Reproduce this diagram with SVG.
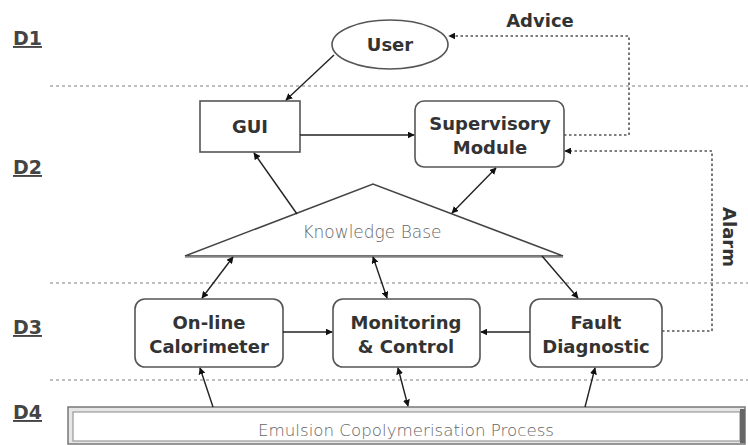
<svg xmlns="http://www.w3.org/2000/svg" width="748" height="445" viewBox="0 0 748 445">
<defs>
<marker id="ah" viewBox="0 0 10 10" refX="9" refY="5" markerWidth="7" markerHeight="7" markerUnits="userSpaceOnUse" orient="auto-start-reverse">
<path d="M0,0 L10,5 L0,10 z" fill="#111"/>
</marker>
<style>
.lbl{font-family:"DejaVu Sans","Liberation Sans",sans-serif;font-weight:bold;font-size:18px;fill:#333;text-anchor:middle}
.dl{font-family:"DejaVu Sans","Liberation Sans",sans-serif;font-weight:bold;font-size:19px;fill:#444;text-decoration:underline}
.thin{font-family:"DejaVu Sans","Liberation Sans",sans-serif;font-weight:200;fill:#666;text-anchor:middle}
.box{fill:#fff;stroke:#555;stroke-width:1.6}
.sep{stroke:#aaa;stroke-width:1.6;stroke-dasharray:3,3;fill:none}
.ln{stroke:#222;stroke-width:1.4;fill:none}
.dot{stroke:#555;stroke-width:1.6;stroke-dasharray:2.5,2.5;fill:none}
</style>
</defs>
<rect width="748" height="445" fill="#fff"/>
<g id="levels">
<text class="dl" x="13" y="45">D1</text>
<text class="dl" x="13" y="174">D2</text>
<text class="dl" x="13" y="334">D3</text>
<text class="dl" x="13" y="419">D4</text>
<line class="sep" x1="50" y1="86" x2="748" y2="86"/>
<line class="sep" x1="50" y1="283" x2="748" y2="283"/>
<line class="sep" x1="50" y1="380" x2="748" y2="380"/>
</g>
<g id="user">
<ellipse class="box" cx="390" cy="44.5" rx="58" ry="24.5"/>
<text class="lbl" x="390" y="51">User</text>
</g>
<g id="gui">
<rect class="box" x="200" y="101" width="100" height="51"/>
<text class="lbl" x="250" y="133">GUI</text>
</g>
<g id="supervisory">
<rect class="box" x="415" y="101" width="149" height="66" rx="9"/>
<text class="lbl" x="490" y="130">Supervisory</text>
<text class="lbl" x="490" y="154">Module</text>
</g>
<g id="knowledge-base">
<polygon points="185,256 373,184 563,256" fill="#fff" stroke="#444" stroke-width="1.5" stroke-linejoin="miter"/>
<line x1="185" y1="257" x2="563" y2="257" stroke="#888" stroke-width="1.5"/>
<text class="thin" x="372" y="238" font-size="17">Knowledge Base</text>
</g>
<g id="calorimeter">
<rect class="box" x="135" y="299" width="148" height="68" rx="10"/>
<text class="lbl" x="209" y="329">On-line</text>
<text class="lbl" x="209" y="353">Calorimeter</text>
</g>
<g id="monitoring">
<rect class="box" x="333" y="299" width="147" height="68" rx="10"/>
<text class="lbl" x="406" y="329">Monitoring</text>
<text class="lbl" x="406" y="353">&amp; Control</text>
</g>
<g id="fault">
<rect class="box" x="530" y="299" width="132" height="68" rx="10"/>
<text class="lbl" x="596" y="329">Fault</text>
<text class="lbl" x="596" y="353">Diagnostic</text>
</g>
<g id="process">
<rect x="68" y="407" width="677" height="37" fill="#e6e6e6" stroke="#777" stroke-width="1.5"/>
<rect x="73" y="412" width="667" height="29" fill="#fff" stroke="#999" stroke-width="1.2"/>
<rect x="740" y="409" width="5" height="34" fill="#666"/>
<text class="thin" x="406" y="436" font-size="16.7">Emulsion Copolymerisation Process</text>
</g>
<g id="connectors">
<path class="ln" d="M334,55 L286,100" marker-end="url(#ah)"/>
<path class="ln" d="M300,135 L414,135" marker-end="url(#ah)"/>
<path class="ln" d="M297,214 L254,153" marker-end="url(#ah)"/>
<path class="ln" d="M452,213 L496,168" marker-start="url(#ah)" marker-end="url(#ah)"/>
<path class="ln" d="M233,257 L202,298" marker-start="url(#ah)" marker-end="url(#ah)"/>
<path class="ln" d="M373,257 L387,298" marker-start="url(#ah)" marker-end="url(#ah)"/>
<path class="ln" d="M542,256 L578,298" marker-end="url(#ah)"/>
<path class="ln" d="M283,332 L332,332" marker-end="url(#ah)"/>
<path class="ln" d="M530,332 L481,332" marker-end="url(#ah)"/>
<path class="ln" d="M213,407 L200,368" marker-end="url(#ah)"/>
<path class="ln" d="M408,406 L398,368" marker-start="url(#ah)" marker-end="url(#ah)"/>
<path class="ln" d="M585,407 L595,368" marker-end="url(#ah)"/>
<path class="dot" d="M564,135 L629,135 L629,36 L449,36" marker-end="url(#ah)"/>
<path class="dot" d="M662,331 L712,331 L712,151 L565,151" marker-end="url(#ah)"/>
<text class="lbl" x="540" y="27">Advice</text>
<text class="lbl" transform="translate(723,237) rotate(90)" x="0" y="0">Alarm</text>
</g>
</svg>
